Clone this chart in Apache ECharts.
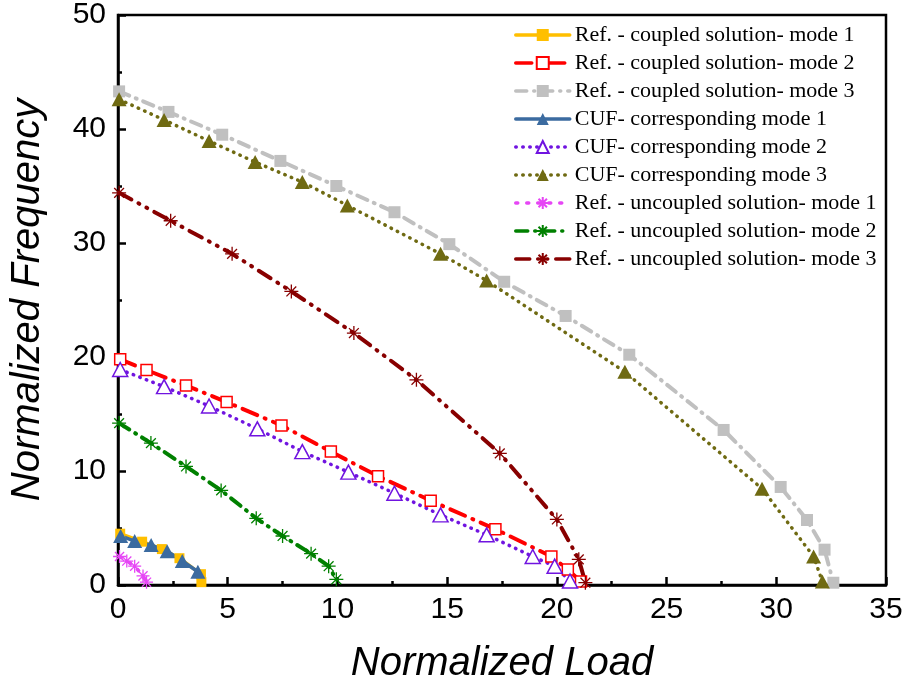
<!DOCTYPE html>
<html>
<head>
<meta charset="utf-8">
<script src="https://cdn.jsdelivr.net/npm/echarts@6/dist/echarts.min.js"></script>
<style>
html,body{margin:0;padding:0;background:#fff;}
#chart{width:909px;height:689px;}
</style>
</head>
<body>
<div id="chart"></div>
<script>
// ---- data ----
const xTicks = [0, 5, 10, 15, 20, 25, 30, 35];
const yTicks = [0, 10, 20, 30, 40, 50];

const seriesNames = [
  'Ref. - coupled solution- mode 1',
  'Ref. - coupled solution- mode 2',
  'Ref. - coupled solution- mode 3',
  'CUF- corresponding mode 1',
  'CUF- corresponding mode 2',
  'CUF- corresponding mode 3',
  'Ref. - uncoupled solution- mode 1',
  'Ref. - uncoupled solution- mode 2',
  'Ref. - uncoupled solution- mode 3'
];

const coupled1 = [[0.1,4.5],[1.1,3.8],[2.0,3.15],[2.8,2.35],[3.78,0.95],[3.8,0.25]];
const coupled2 = [[0.1,19.8],[1.3,18.85],[3.1,17.5],[4.95,16.05],[7.45,14.0],[9.7,11.7],[11.85,9.55],[14.25,7.4],[17.2,4.9],[19.75,2.5],[20.5,1.35],[21.1,0.3]];
const coupled3 = [[0.05,43.3],[2.3,41.5],[4.75,39.5],[7.4,37.2],[9.95,35.0],[12.6,32.7],[15.1,29.9],[17.6,26.6],[20.4,23.6],[23.3,20.2],[27.6,13.6],[30.2,8.6],[31.4,5.7],[32.2,3.1],[32.6,0.2]];
const cuf1 = [[0.12,4.3],[0.76,3.85],[1.51,3.5],[2.24,2.97],[2.93,2.1],[3.64,1.16]];
const cuf2 = [[0.1,18.9],[2.1,17.4],[4.15,15.7],[6.35,13.7],[8.4,11.7],[10.5,9.9],[12.6,8.05],[14.7,6.15],[16.8,4.4],[18.9,2.5],[19.9,1.65],[20.6,0.35]];
const cuf3 = [[0.05,42.6],[2.1,40.8],[4.15,38.95],[6.25,37.1],[8.4,35.35],[10.45,33.3],[14.7,29.05],[16.8,26.7],[23.1,18.7],[29.35,8.45],[31.7,2.5],[32.1,0.3]];
const uncoupled1 = [[0.07,2.5],[0.4,2.1],[0.76,1.65],[1.14,0.8],[1.3,0.25]];
const uncoupled2 = [[0.05,14.2],[1.5,12.45],[3.1,10.4],[4.7,8.3],[6.3,5.85],[7.5,4.3],[8.8,2.75],[9.6,1.65],[9.95,0.5]];
const uncoupled3 = [[0.05,34.4],[2.4,31.95],[5.2,29.05],[7.9,25.75],[10.75,22.1],[13.6,18.0],[17.4,11.55],[20.0,5.75],[21.0,2.25],[21.3,0.2]];

// ---- styling ----
const asterisk = 'path://M0,-10L0,10M-10,0L10,0M-7,-7L7,7M-7,7L7,-7';

function mk(name, data, color, dash, width, symbol, size, open, star) {
  const s = {
    name: name,
    type: 'line',
    data: data,
    symbol: symbol,
    symbolSize: size,
    showAllSymbol: true,
    lineStyle: { color: color, width: width, type: dash, cap: 'round', join: 'round' },
    itemStyle: { color: color },
    emphasis: { disabled: true },
    animation: false
  };
  if (open) {
    s.itemStyle = { color: '#ffffff', borderColor: color, borderWidth: 1.5 };
  }
  if (star) {
    s.itemStyle = { color: 'none', borderColor: color, borderWidth: 1.3 };
  }
  return s;
}

const series = [
  mk(seriesNames[0], coupled1, '#FFBF00', 'solid', 3.5, 'rect', 10, false, false),
  mk(seriesNames[1], coupled2, '#FF0000', [16, 8, 1, 8], 4, 'rect', 11, true, false),
  mk(seriesNames[2], coupled3, '#C0C0C0', [11, 7, 1, 7], 4, 'rect', 12, false, false),
  mk(seriesNames[3], cuf1, '#3B6BA0', 'solid', 3.5, 'triangle', [15, 14], false, false),
  mk(seriesNames[4], cuf2, '#7014E0', [0.5, 6.5], 3.5, 'triangle', [15, 14], true, false),
  mk(seriesNames[5], cuf3, '#6F6A12', [0.5, 6.5], 3.5, 'triangle', [15, 14], false, false),
  mk(seriesNames[6], uncoupled1, '#E646F5', [2, 9], 3.5, asterisk, 13, false, true),
  mk(seriesNames[7], uncoupled2, '#008000', [12, 7, 1, 7], 4, asterisk, 14, false, true),
  mk(seriesNames[8], uncoupled3, '#880000', [14, 8, 1, 8, 1, 8], 4, asterisk, 14, false, true)
];

const chart = echarts.init(document.getElementById('chart'), null, { renderer: 'canvas' });
chart.setOption({
  backgroundColor: '#ffffff',
  animation: false,
  grid: {
    left: 117, right: 23, top: 15, bottom: 102,
    show: true, borderColor: '#000', borderWidth: 2.5, backgroundColor: 'transparent'
  },
  legend: {
    orient: 'vertical',
    left: 514, top: 24,
    padding: 0,
    itemWidth: 54, itemHeight: 15, itemGap: 6,
    data: seriesNames,
    lineStyle: { width: 3.5 },
    textStyle: { fontFamily: 'Liberation Serif', fontSize: 22, color: '#000', lineHeight: 22 },
    selectedMode: false
  },
  xAxis: {
    type: 'value',
    min: xTicks[0], max: xTicks[xTicks.length - 1], interval: 5,
    name: 'Normalized Load',
    nameLocation: 'middle', nameGap: 59,
    nameTextStyle: { fontFamily: 'Liberation Sans', fontStyle: 'italic', fontSize: 40, color: '#000' },
    axisLine: { show: true, lineStyle: { color: '#000', width: 2.5 } },
    axisTick: { show: true, inside: true, length: 8, lineStyle: { color: '#000', width: 2.5 } },
    minorTick: { show: true, splitNumber: 2, length: 4, lineStyle: { color: '#000', width: 2.5 } },
    axisLabel: { fontFamily: 'Liberation Sans', fontSize: 30, color: '#000', margin: 10 },
    splitLine: { show: false }
  },
  yAxis: {
    type: 'value',
    min: yTicks[0], max: yTicks[yTicks.length - 1], interval: 10,
    name: 'Normalized Frequency',
    nameLocation: 'middle', nameGap: 70,
    nameTextStyle: { fontFamily: 'Liberation Sans', fontStyle: 'italic', fontSize: 40, color: '#000' },
    axisLine: { show: true, lineStyle: { color: '#000', width: 2.5 } },
    axisTick: { show: true, inside: true, length: 8, lineStyle: { color: '#000', width: 2.5 } },
    minorTick: { show: true, splitNumber: 2, length: 4, lineStyle: { color: '#000', width: 2.5 } },
    axisLabel: { fontFamily: 'Liberation Sans', fontSize: 30, color: '#000', margin: 12 },
    splitLine: { show: false }
  },
  series: series
});
</script>
</body>
</html>
